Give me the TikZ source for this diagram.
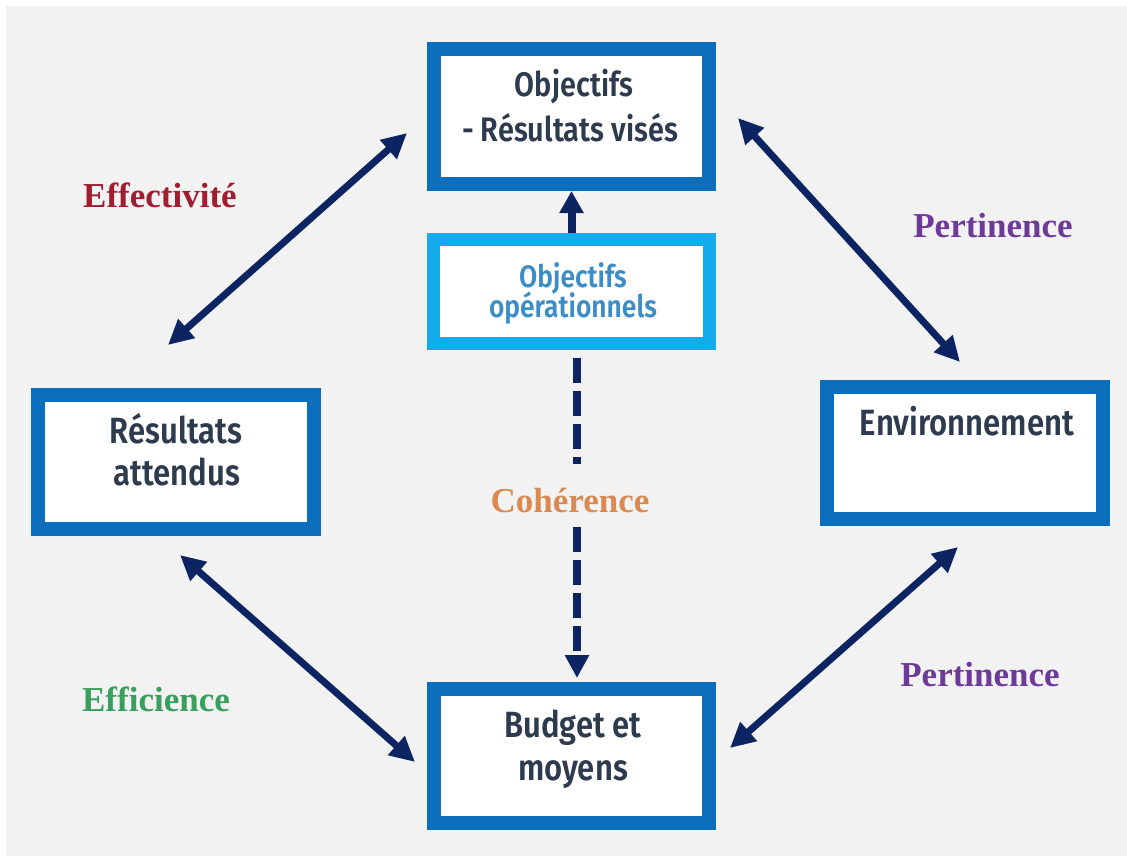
\documentclass[tikz,border=0pt]{standalone}
\usepackage{fontspec}
\setmainfont{Liberation Serif}
\newfontfamily\boxfont[FakeStretch=0.85]{Fira Sans SemiBold}
\usetikzlibrary{arrows.meta}
\definecolor{bggrey}{HTML}{F2F2F2}
\definecolor{boxblue}{HTML}{0A6EBD}
\definecolor{lightblue}{HTML}{12ACEA}
\definecolor{navy}{HTML}{0C2461}
\definecolor{boxtext}{HTML}{2E3A4E}
\definecolor{optext}{HTML}{3C8DC5}
\definecolor{effred}{HTML}{A01E30}
\definecolor{pertpurple}{HTML}{6E3A98}
\definecolor{effgreen}{HTML}{3A9E5C}
\definecolor{cohorange}{HTML}{DA8A50}
\begin{document}
\begin{tikzpicture}[x=1pt,y=-1pt,
  box/.style={draw=boxblue, line width=14pt, fill=white, inner sep=0pt},
  opbox/.style={draw=lightblue, line width=13pt, fill=white, inner sep=0pt},
  boxtxt/.style={font=\boxfont\fontsize{34}{40}\selectfont, text=boxtext, anchor=base, inner sep=0pt},
  bigtxt/.style={font=\boxfont\fontsize{36.5}{42}\selectfont, text=boxtext, anchor=base, inner sep=0pt},
  optxt/.style={font=\boxfont\fontsize{31}{36}\selectfont, text=optext, anchor=base, inner sep=0pt},
  lbl/.style={font=\bfseries\fontsize{35}{40}\selectfont, anchor=base, inner sep=0pt},
  conn/.style={draw=navy, line width=7pt, {Triangle[length=25pt,width=24pt]}-{Triangle[length=25pt,width=24pt]}},
  upconn/.style={draw=navy, line width=8pt, -{Triangle[length=22pt,width=23pt]}},
  dashconn/.style={draw=navy, line width=8pt, dash pattern=on 25pt off 8pt}
]
\useasboundingbox (0,0) rectangle (1127,856);
\fill[white] (0,0) rectangle (1127,856);
\fill[bggrey] (6,6) rectangle (1127,856);

% boxes
\node[box, minimum width=275pt, minimum height=135pt] (top) at (571.5,116.5) {};
\node[opbox, minimum width=276pt, minimum height=104pt] (op) at (571.5,291.5) {};
\node[box, minimum width=276pt, minimum height=134pt] (left) at (176,462) {};
\node[box, minimum width=276pt, minimum height=132pt] (env) at (965,453) {};
\node[box, minimum width=275pt, minimum height=134pt] (bot) at (571.5,756) {};

% box texts
\node[boxtxt] (topA) at (574,97) {Objectifs};
\node[boxtxt] (topB) at (570,142) {- Résultats visés};
\node[optxt] (opA) at (573,287) {Objectifs};
\node[optxt] (opB) at (573,317) {opérationnels};
\node[bigtxt] (leftA) at (176,443) {Résultats};
\node[bigtxt] (leftB) at (177,485) {attendus};
\node[bigtxt] (envA) at (967,435) {Environnement};
\node[bigtxt] (botA) at (573,737) {Budget et};
\node[bigtxt] (botB) at (573,780) {moyens};

% labels
\node[lbl, text=effred] (effect) at (160,207) {Effectivité};
\node[lbl, text=pertpurple] (pertA) at (993,237) {Pertinence};
\node[lbl, text=pertpurple] (pertB) at (980,686) {Pertinence};
\node[lbl, text=effgreen] (effic) at (156,711) {Efficience};
\node[lbl, text=cohorange] (coh) at (570,512) {Cohérence};

% arrow end points
\coordinate (a1s) at (168,345);
\coordinate (a1e) at (407,133);
\coordinate (a2s) at (738,118);
\coordinate (a2e) at (960,362);
\coordinate (a3s) at (180,555);
\coordinate (a3e) at (415,762);
\coordinate (a4s) at (730,748);
\coordinate (a4e) at (958,547);
\coordinate (d1) at (577,358);
\coordinate (d2) at (577,464);
\coordinate (d3) at (577,527);
\coordinate (d4) at (577,678);

\draw[conn] (a1s) -- (a1e);
\draw[conn] (a2s) -- (a2e);
\draw[conn] (a3s) -- (a3e);
\draw[conn] (a4s) -- (a4e);
\draw[upconn] (op.north) -- (top.south);
\draw[dashconn] (d1) -- (d2);
\draw[dashconn, -{Triangle[length=23pt,width=23pt]}] (d3) -- (d4);
\end{tikzpicture}
\end{document}
